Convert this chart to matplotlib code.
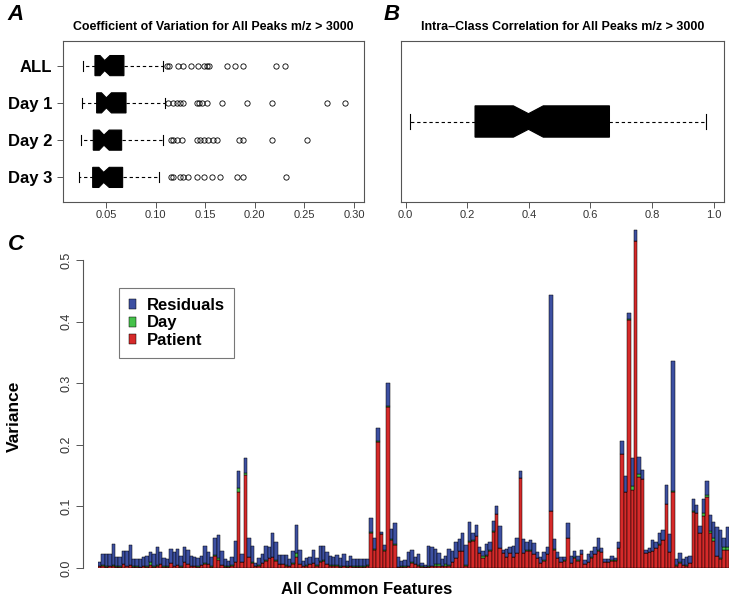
import matplotlib
matplotlib.use("Agg")
import matplotlib.pyplot as plt
import numpy as np

plt.rcParams['font.family'] = ['Liberation Sans', 'DejaVu Sans']

# ---- panel A: coefficient of variation (box stats)
cv_groups = ["ALL", "Day 1", "Day 2", "Day 3"]
cv_whislo = [0.0265, 0.0255, 0.0248, 0.0228]
cv_q1 = [0.0389, 0.0406, 0.0372, 0.0366]
cv_med = [0.0487, 0.0504, 0.0480, 0.0477]
cv_q3 = [0.0681, 0.0702, 0.0658, 0.0668]
cv_whishi = [0.1078, 0.1095, 0.1071, 0.1038]
cv_cilo = [0.0440, 0.0455, 0.0432, 0.0428]
cv_cihi = [0.0540, 0.0555, 0.0533, 0.0533]
cv_fliers = [
    [0.1112, 0.1135, 0.1229, 0.1273, 0.1354, 0.1430, 0.1488, 0.1514, 0.1541,
     0.1716, 0.1800, 0.1878, 0.2214, 0.2304],
    [0.1128, 0.1178, 0.1213, 0.1246, 0.1280, 0.1414, 0.1441, 0.1464, 0.1521,
     0.1666, 0.1918, 0.2170, 0.2725, 0.2909],
    [0.1152, 0.1178, 0.1213, 0.1263, 0.1414, 0.1448, 0.1488, 0.1532, 0.1582,
     0.1622, 0.1844, 0.1884, 0.2170, 0.2523],
    [0.1152, 0.1178, 0.1246, 0.1273, 0.1330, 0.1414, 0.1488, 0.1565, 0.1649,
     0.1818, 0.1884, 0.2314],
]

# ---- panel B: intra-class correlation
icc_stats = dict(whislo=0.014, q1=0.2254, med=0.399, q3=0.662, whishi=0.977,
                 cilo=0.350, cihi=0.447, fliers=[])

# ---- panel C: variance components per feature
patient = [
    0.003, 0.004, 0.002, 0.003, 0.004, 0.002, 0.002, 0.006, 0.003, 0.005,
    0.002, 0.002, 0.001, 0.003, 0.002, 0.005, 0.002, 0.004, 0.006, 0.002,
    0.002, 0.008, 0.003, 0.005, 0.002, 0.010, 0.006, 0.003, 0.003, 0.002,
    0.005, 0.007, 0.006, 0.002, 0.020, 0.013, 0.005, 0.002, 0.002, 0.004,
    0.010, 0.124, 0.010, 0.151, 0.018, 0.008, 0.003, 0.004, 0.008, 0.012,
    0.016, 0.018, 0.012, 0.006, 0.006, 0.004, 0.003, 0.007, 0.018, 0.006,
    0.003, 0.004, 0.006, 0.008, 0.004, 0.010, 0.012, 0.006, 0.004, 0.004,
    0.004, 0.002, 0.003, 0.002, 0.003, 0.002, 0.002, 0.002, 0.002,
    0.004, 0.057, 0.030, 0.204, 0.055, 0.028, 0.262, 0.046, 0.038,
    0.001, 0.002, 0.002, 0.003, 0.008, 0.006, 0.004, 0.002, 0.001, 0.002, 0.003, 0.004,
    0.003, 0.003, 0.004, 0.004, 0.010, 0.016, 0.027, 0.027, 0.003, 0.042,
    0.044, 0.052, 0.024, 0.016, 0.020, 0.028, 0.058, 0.087, 0.032, 0.024,
    0.018, 0.024, 0.018, 0.024, 0.146, 0.024, 0.028, 0.028, 0.022, 0.016,
    0.008, 0.012, 0.022, 0.092, 0.030, 0.016, 0.010, 0.012, 0.049, 0.008,
    0.017, 0.012, 0.022, 0.006, 0.010, 0.017, 0.022, 0.028, 0.026, 0.010,
    0.010, 0.012, 0.012, 0.032, 0.185, 0.123, 0.403, 0.126, 0.530, 0.148,
    0.144, 0.024, 0.026, 0.027, 0.032, 0.038, 0.045, 0.104, 0.026, 0.124,
    0.004, 0.008, 0.005, 0.004, 0.008, 0.091, 0.089, 0.057, 0.085, 0.115,
    0.057, 0.044, 0.019, 0.014, 0.030, 0.030,
]
day = [
    0.0005, 0.0005, 0.0005, 0.0005, 0.0005, 0.0005, 0.0005, 0.0005, 0.0005, 0.0005,
    0.0005, 0.0005, 0.0005, 0.0005, 0.0005, 0.004, 0.0005, 0.0005, 0.0005, 0.0005,
    0.0005, 0.0005, 0.0005, 0.0005, 0.0005, 0.0005, 0.0005, 0.0005, 0.0005, 0.0005,
    0.0005, 0.0005, 0.0005, 0.0005, 0.001, 0.003, 0.0005, 0.0005, 0.0005, 0.0005,
    0.0005, 0.006, 0.0005, 0.003, 0.0005, 0.002, 0.0005, 0.0005, 0.0005, 0.0005,
    0.0005, 0.0005, 0.0005, 0.0005, 0.0005, 0.0005, 0.0005, 0.0005, 0.007, 0.0005,
    0.0005, 0.0005, 0.0005, 0.0005, 0.0005, 0.002, 0.0005, 0.0005, 0.0005, 0.0005,
    0.0005, 0.0005, 0.0005, 0.0005, 0.0005, 0.0005, 0.0005, 0.0005, 0.0005,
    0.0005, 0.002, 0.0005, 0.002, 0.001, 0.0005, 0.001, 0.0005, 0.0005,
    0.0005, 0.0005, 0.0005, 0.0005, 0.002, 0.0005, 0.0005, 0.0005, 0.0005, 0.0005, 0.0005, 0.003,
    0.003, 0.0005, 0.003, 0.0005, 0.0005, 0.0005, 0.0005, 0.0005, 0.002, 0.002,
    0.002, 0.0005, 0.0005, 0.003, 0.0005, 0.0005, 0.002, 0.0005, 0.0005, 0.0005,
    0.0005, 0.0005, 0.0005, 0.0005, 0.0005, 0.0005, 0.0005, 0.0005, 0.0005, 0.0005,
    0.0005, 0.0005, 0.0005, 0.0005, 0.0005, 0.0005, 0.0005, 0.0005, 0.0005, 0.0005,
    0.0005, 0.0005, 0.0005, 0.0005, 0.0005, 0.0005, 0.0005, 0.0005, 0.0005, 0.0005,
    0.0005, 0.0005, 0.0005, 0.0005, 0.0005, 0.0005, 0.0005, 0.007, 0.0005, 0.004,
    0.0005, 0.0005, 0.0005, 0.0005, 0.0005, 0.0005, 0.0005, 0.0005, 0.0005, 0.0005,
    0.0005, 0.002, 0.0005, 0.0005, 0.0005, 0.002, 0.0005, 0.0005, 0.004, 0.004,
    0.003, 0.004, 0.0005, 0.003, 0.004, 0.004,
]
residual = [
    0.006, 0.019, 0.020, 0.020, 0.034, 0.016, 0.015, 0.021, 0.024, 0.032,
    0.012, 0.012, 0.013, 0.014, 0.017, 0.017, 0.021, 0.030, 0.019, 0.013,
    0.012, 0.022, 0.023, 0.026, 0.017, 0.023, 0.023, 0.016, 0.014, 0.014,
    0.014, 0.029, 0.019, 0.016, 0.027, 0.037, 0.022, 0.012, 0.009, 0.014,
    0.034, 0.028, 0.012, 0.024, 0.030, 0.026, 0.005, 0.012, 0.015, 0.024,
    0.017, 0.038, 0.029, 0.014, 0.015, 0.016, 0.011, 0.020, 0.044, 0.023,
    0.008, 0.011, 0.012, 0.021, 0.012, 0.023, 0.023, 0.019, 0.015, 0.013,
    0.016, 0.013, 0.019, 0.009, 0.016, 0.012, 0.012, 0.012, 0.012,
    0.010, 0.022, 0.019, 0.022, 0.003, 0.009, 0.037, 0.017, 0.034,
    0.017, 0.009, 0.010, 0.022, 0.020, 0.012, 0.018, 0.006, 0.003, 0.033, 0.031, 0.024,
    0.019, 0.011, 0.013, 0.026, 0.017, 0.025, 0.019, 0.030, 0.033, 0.030,
    0.011, 0.018, 0.009, 0.008, 0.018, 0.013, 0.017, 0.013, 0.036, 0.004,
    0.012, 0.009, 0.018, 0.024, 0.011, 0.022, 0.014, 0.017, 0.018, 0.009,
    0.010, 0.013, 0.011, 0.351, 0.016, 0.010, 0.008, 0.006, 0.023, 0.011,
    0.010, 0.007, 0.007, 0.007, 0.012, 0.010, 0.011, 0.021, 0.006, 0.004,
    0.004, 0.007, 0.004, 0.009, 0.021, 0.026, 0.011, 0.046, 0.018, 0.028,
    0.014, 0.004, 0.006, 0.018, 0.010, 0.019, 0.016, 0.030, 0.029, 0.211,
    0.010, 0.015, 0.009, 0.014, 0.011, 0.019, 0.012, 0.011, 0.023, 0.023,
    0.026, 0.026, 0.047, 0.044, 0.014, 0.033,
]
assert len(patient) == len(day) == len(residual)

c_blue = "#3d50a2"
c_green = "#45c24a"
c_red = "#d62a2a"
frame_col = "#555555"

fig = plt.figure(figsize=(7.37, 6.04), dpi=100)
W, H = 737.0, 604.0


def box_style():
    return dict(
        orientation='horizontal', patch_artist=True, shownotches=True,
        boxprops=dict(facecolor='black', edgecolor='black', linewidth=0.8),
        medianprops=dict(color='black', linewidth=1.5),
        whiskerprops=dict(color='black', linestyle=(0, (3, 2.5)), linewidth=0.8),
        capprops=dict(color='black', linewidth=0.8),
        flierprops=dict(marker='o', markerfacecolor='none', markeredgecolor='black',
                        markersize=3.8, markeredgewidth=0.6),
    )


def style_frame(ax):
    for s in ax.spines.values():
        s.set_color(frame_col)
        s.set_linewidth(0.8)
    ax.tick_params(axis='x', colors=frame_col, labelcolor='#333333', labelsize=8,
                   length=4, width=0.7, pad=2)


# panel A
axA = fig.add_axes([63 / W, 1 - 202 / H, (364 - 63) / W, (202 - 41) / H])
statsA = []
for i in range(len(cv_groups)):
    statsA.append(dict(whislo=cv_whislo[i], q1=cv_q1[i], med=cv_med[i], q3=cv_q3[i],
                       whishi=cv_whishi[i], cilo=cv_cilo[i], cihi=cv_cihi[i],
                       fliers=cv_fliers[i], label=cv_groups[i]))
posA = [4, 3, 2, 1]
axA.bxp(statsA, positions=posA, widths=0.54, **box_style())
axA.set_ylim(0.34, 4.66)
axA.set_xlim(0.0067, 0.310)
axA.set_xticks([0.05, 0.10, 0.15, 0.20, 0.25, 0.30])
axA.set_xticklabels(["0.05", "0.10", "0.15", "0.20", "0.25", "0.30"])
axA.set_yticks(posA)
axA.set_yticklabels(cv_groups, fontsize=12, fontweight='bold')
axA.tick_params(axis='y', length=4, width=0.7, colors=frame_col, labelcolor='black', pad=4)
style_frame(axA)
axA.set_title("Coefficient of Variation for All Peaks m/z > 3000", fontsize=8.9,
              fontweight='bold', pad=8)

# panel B
axB = fig.add_axes([401 / W, 1 - 202 / H, (724 - 401) / W, (202 - 41) / H])
axB.bxp([icc_stats], positions=[1], widths=0.21, **box_style())
axB.set_ylim(0.46, 1.54)
axB.set_xlim(-0.015, 1.034)
axB.set_xticks([0.0, 0.2, 0.4, 0.6, 0.8, 1.0])
axB.set_xticklabels(["0.0", "0.2", "0.4", "0.6", "0.8", "1.0"])
axB.set_yticks([])
style_frame(axB)
axB.set_title("Intra\u2013Class Correlation for All Peaks m/z > 3000", fontsize=9,
              fontweight='bold', pad=8)

# panel C
axC = fig.add_axes([98 / W, 1 - 568 / H, 631 / W, 345 / H])
x = np.arange(len(patient))
bot2 = np.add(patient, day)
axC.bar(x, patient, width=1.0, color=c_red, edgecolor='black', linewidth=0.35, label="Patient")
axC.bar(x, day, bottom=patient, width=1.0, color=c_green, edgecolor='black', linewidth=0.35,
        label="Day")
axC.bar(x, residual, bottom=bot2, width=1.0, color=c_blue, edgecolor='black', linewidth=0.35,
        label="Residuals")
axC.set_xlim(-0.5, len(patient) - 0.5)
axC.set_ylim(0, 0.56)
for s in ['top', 'right', 'bottom']:
    axC.spines[s].set_visible(False)
axC.spines['left'].set_position(('outward', 11))
axC.spines['left'].set_bounds(0, 0.5)
axC.spines['left'].set_color(frame_col)
axC.set_yticks([0.0, 0.1, 0.2, 0.3, 0.4, 0.5])
axC.set_yticklabels(["0.0", "0.1", "0.2", "0.3", "0.4", "0.5"], rotation=90, va='center')
axC.tick_params(axis='y', colors=frame_col, labelcolor='#333333', labelsize=9, length=5,
                width=0.7, pad=2)
axC.set_xticks([])
axC.set_ylabel("Variance", fontsize=12.5, fontweight='bold')
axC.yaxis.set_label_coords((22 - 98) / 631, 0.44)
fig.text(367 / W, 1 - 590 / H, "All Common Features", fontsize=12, fontweight='bold',
         ha='center', va='center')

handles, labels = axC.get_legend_handles_labels()
leg = axC.legend(handles[::-1], labels[::-1], loc='upper left',
                 bbox_to_anchor=(119 / W, 1 - 288 / H), bbox_transform=fig.transFigure,
                 borderaxespad=0, fancybox=False, handlelength=0.45, handleheight=0.55,
                 handletextpad=0.6, labelspacing=0.15, borderpad=0.6,
                 prop=dict(size=12, weight='bold'))
leg.get_frame().set_edgecolor(frame_col)
leg.get_frame().set_linewidth(0.8)

# panel letters
for lab, px, py in [("A", 16, 14), ("B", 392, 14), ("C", 16, 245)]:
    fig.text(px / W, 1 - py / H, lab, fontsize=16, fontweight='bold', style='italic',
             ha='center', va='center')

fig.savefig("out.png", dpi=100)
